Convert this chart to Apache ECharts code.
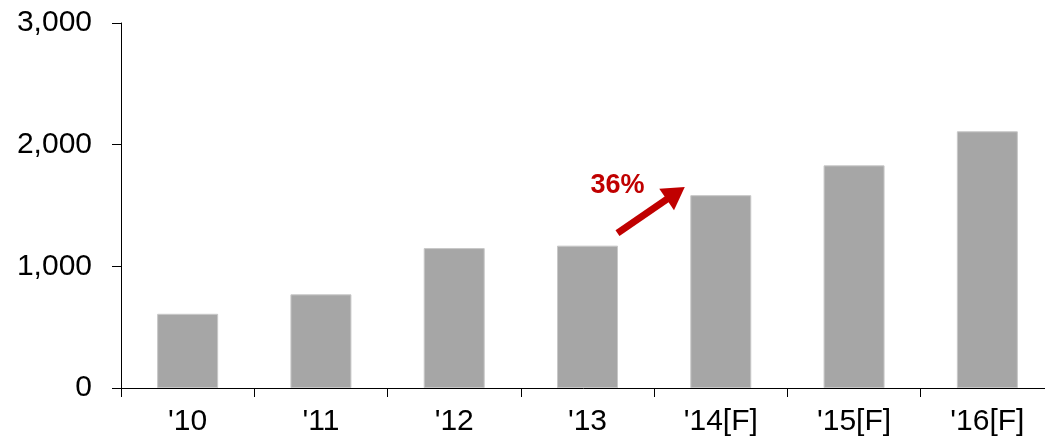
<!DOCTYPE html>
<html>
<head>
<meta charset="utf-8">
<script src="https://cdn.jsdelivr.net/npm/echarts@6/dist/echarts.min.js"></script>
<style>
html,body{margin:0;padding:0;background:#fff;}
#c{width:1045px;height:444px;}
</style>
</head>
<body>
<div id="c"></div>
<script>
const categories = ["'10", "'11", "'12", "'13", "'14[F]", "'15[F]", "'16[F]"];
const values = [610, 770, 1150, 1170, 1585, 1830, 2110];
const yTicks = [0, 1000, 2000, 3000];
const growthLabel = "36%";

const chart = echarts.init(document.getElementById('c'));
const FONT = '"Liberation Sans", Arial, sans-serif';
chart.setOption({
  animation: false,
  grid: { left: 121, right: -9, top: 23, bottom: 56, outerBoundsMode: 'none', containLabel: false },
  xAxis: {
    type: 'category',
    data: categories,
    axisLine: { lineStyle: { color: '#000', width: 1 } },
    axisTick: { show: true, length: 9, lineStyle: { color: '#000' } },
    axisLabel: { color: '#000', fontSize: 30, fontFamily: FONT, margin: 19 },
    splitLine: { show: false }
  },
  yAxis: {
    type: 'value',
    min: yTicks[0], max: yTicks[yTicks.length - 1], interval: 1000,
    axisLine: { show: true, lineStyle: { color: '#000', width: 1 } },
    axisTick: { show: true, length: 9, lineStyle: { color: '#000' } },
    axisLabel: {
      color: '#000', fontSize: 30, fontFamily: FONT, margin: 29,
      formatter: v => v.toLocaleString('en-US')
    },
    splitLine: { show: false }
  },
  series: [{
    type: 'bar',
    data: values,
    barWidth: 61,
    itemStyle: { color: '#a6a6a6', borderColor: '#c8c8c8', borderWidth: 1 }
  }]
});

// annotation arrow between '13 and '14
const p0 = chart.convertToPixel({ gridIndex: 0 }, [3, 0]);
const p1 = chart.convertToPixel({ gridIndex: 0 }, [4, 0]);
const yPix = v => chart.convertToPixel({ gridIndex: 0 }, [0, v])[1];
const sx = p0[0] + 30, sy = yPix(1272);
const tx = p1[0] - 36, ty = yPix(1652);
const dx = tx - sx, dy = ty - sy, L = Math.hypot(dx, dy);
const ux = dx / L, uy = dy / L, nx = -uy, ny = ux;
const headLen = 22, headW = 13;
const bx = tx - ux * headLen, by = ty - uy * headLen;
chart.setOption({
  graphic: [
    {
      type: 'line',
      shape: { x1: sx, y1: sy, x2: bx + ux * 4, y2: by + uy * 4 },
      style: { stroke: '#c00000', lineWidth: 7 }
    },
    {
      type: 'polygon',
      shape: { points: [[tx, ty], [bx + nx * headW, by + ny * headW], [bx - nx * headW, by - ny * headW]] },
      style: { fill: '#c00000' }
    },
    {
      type: 'text',
      x: sx, y: yPix(1660),
      style: {
        text: growthLabel, fill: '#c00000', fontSize: 27, fontWeight: 'bold',
        fontFamily: FONT, align: 'center', verticalAlign: 'middle'
      }
    }
  ]
});
</script>
</body>
</html>
